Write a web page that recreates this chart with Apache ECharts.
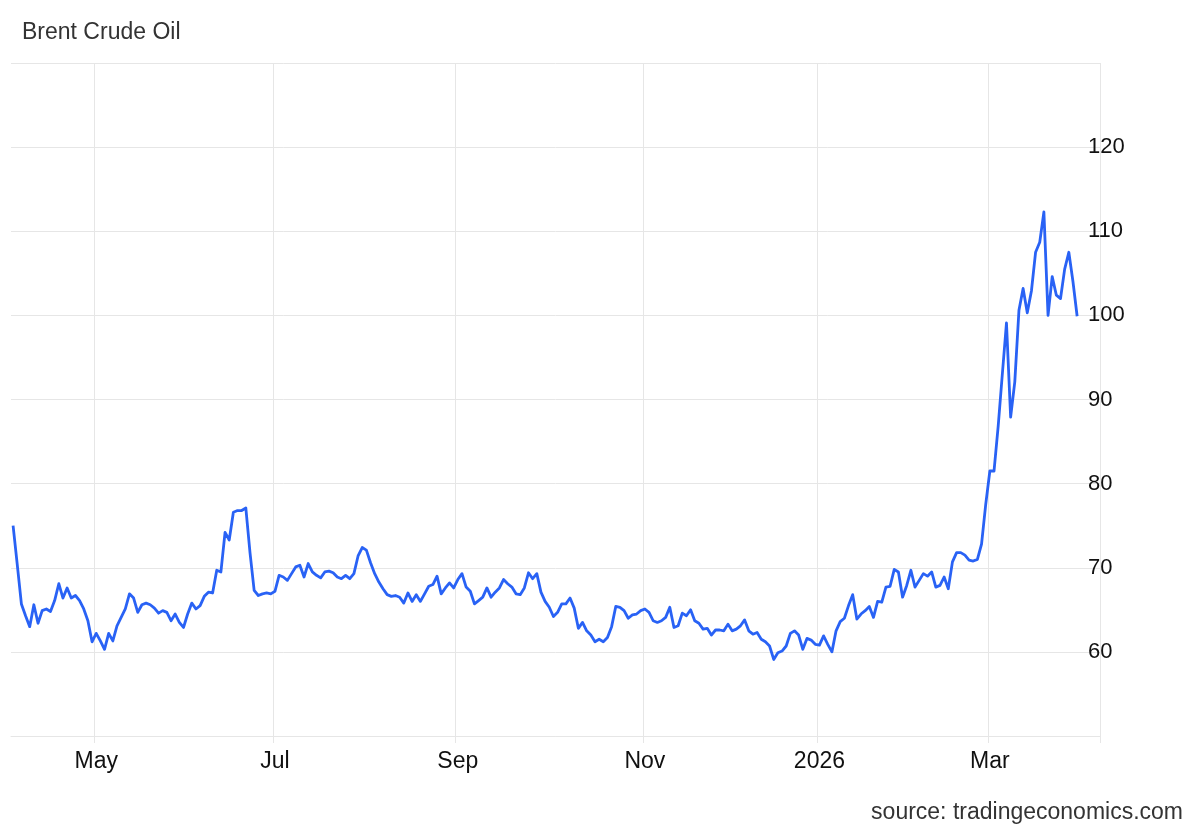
<!DOCTYPE html>
<html>
<head>
<meta charset="utf-8">
<script src="https://cdn.jsdelivr.net/npm/echarts@6/dist/echarts.min.js"></script>
<style>
html,body{margin:0;padding:0;background:#ffffff;}
#chart{width:1200px;height:832px;}
</style>
</head>
<body>
<div id="chart"></div>
<script>
// ---- data ----
const titleText = 'Brent Crude Oil';
const sourceText = 'source: tradingeconomics.com';
const firstDay = '2025-04-02';
const lastDay = '2026-03-31';
const holidays = ['2025-04-18', '2025-12-25', '2026-01-01'];
const monthLabels = {'2025-05': 'May', '2025-07': 'Jul', '2025-09': 'Sep', '2025-11': 'Nov', '2026-01': '2026', '2026-03': 'Mar'};
const yTickLabels = [60, 70, 80, 90, 100, 110, 120];
const prices = [
  75.0, 70.4, 65.7, 64.3, 63.0, 65.6, 63.4, 64.9, 65.1, 64.8,
  66.1, 68.1, 66.4, 67.6, 66.4, 66.7, 66.1, 65.1, 63.7, 61.2,
  62.2, 61.3, 60.3, 62.2, 61.3, 63.1, 64.1, 65.1, 66.9, 66.4,
  64.7, 65.6, 65.8, 65.6, 65.2, 64.6, 64.9, 64.7, 63.7, 64.5,
  63.5, 62.9, 64.5, 65.8, 65.1, 65.5, 66.6, 67.1, 67.0, 69.7,
  69.5, 74.2, 73.3, 76.6, 76.8, 76.8, 77.1, 71.8, 67.3, 66.7,
  66.9, 67.0, 66.9, 67.2, 69.1, 68.9, 68.5, 69.3, 70.1, 70.3,
  68.9, 70.5, 69.5, 69.1, 68.8, 69.5, 69.6, 69.4, 68.9, 68.7,
  69.1, 68.7, 69.3, 71.4, 72.4, 72.1, 70.6, 69.3, 68.3, 67.5,
  66.8, 66.6, 66.7, 66.5, 65.8, 67.0, 66.0, 66.8, 66.0, 66.9,
  67.8, 68.0, 69.0, 66.9, 67.6, 68.2, 67.6, 68.6, 69.3, 67.7,
  67.2, 65.7, 66.1, 66.5, 67.6, 66.5, 67.1, 67.6, 68.6, 68.1,
  67.7, 66.9, 66.8, 67.6, 69.4, 68.7, 69.3, 67.1, 66.0, 65.3,
  64.2, 64.7, 65.7, 65.7, 66.4, 65.2, 62.8, 63.5, 62.5, 62.0,
  61.2, 61.5, 61.2, 61.7, 63.0, 65.4, 65.3, 64.9, 64.0, 64.4,
  64.5, 64.9, 65.1, 64.7, 63.7, 63.5, 63.7, 64.1, 65.3, 62.9,
  63.1, 64.6, 64.3, 65.0, 63.7, 63.4, 62.7, 62.8, 62.0, 62.6,
  62.6, 62.5, 63.3, 62.5, 62.7, 63.1, 63.8, 62.5, 62.1, 62.3,
  61.5, 61.2, 60.7, 59.1, 59.9, 60.1, 60.7, 62.2, 62.5, 62.0,
  60.3, 61.6, 61.4, 60.9, 60.8, 61.9, 60.9, 60.0, 62.5, 63.6,
  64.0, 65.5, 66.8, 63.9, 64.5, 64.9, 65.4, 64.1, 66.0, 65.9,
  67.7, 67.8, 69.8, 69.5, 66.5, 67.9, 69.7, 67.7, 68.5, 69.3,
  69.0, 69.5, 67.7, 67.9, 68.9, 67.5, 70.7, 71.8, 71.8, 71.5,
  70.9, 70.8, 71.0, 72.8, 77.5, 81.5, 81.5, 86.8, 93.0, 99.1,
  87.9, 92.1, 100.6, 103.2, 100.3, 102.9, 107.5, 108.7, 112.3, 100.0,
  104.6, 102.4, 102.0, 105.5, 107.5, 104.0, 99.9
];

// ---- trading-day categories (weekdays minus market holidays) ----
const dates = [];
(function () {
  const d = new Date(firstDay + 'T00:00:00Z');
  const end = new Date(lastDay + 'T00:00:00Z');
  while (d <= end) {
    const wd = d.getUTCDay();
    const s = d.toISOString().slice(0, 10);
    if (wd !== 0 && wd !== 6 && holidays.indexOf(s) < 0) dates.push(s);
    d.setUTCDate(d.getUTCDate() + 1);
  }
})();

// first trading day of each labelled month
const labelAt = {};
for (let i = 0; i < dates.length; i++) {
  const m = dates[i].slice(0, 7);
  const prevM = i > 0 ? dates[i - 1].slice(0, 7) : null;
  if (m !== prevM && monthLabels[m] && i > 0) labelAt[i] = monthLabels[m];
}
const isMonthStart = (idx) => labelAt[idx] !== undefined;

const gridColor = '#e6e6e6';
const fontFamily = '"Liberation Sans", Arial, Helvetica, sans-serif';

const chart = echarts.init(document.getElementById('chart'), null, {renderer: 'canvas'});
chart.setOption({
  animation: false,
  backgroundColor: '#ffffff',
  title: [
    {text: titleText, left: 17, top: 16,
     textStyle: {fontFamily, fontSize: 23, fontWeight: 'normal', color: '#333333'}},
    {text: sourceText, right: 12, top: 796,
     textStyle: {fontFamily, fontSize: 23, fontWeight: 'normal', color: '#333333'}}
  ],
  grid: {left: 11, right: 100, top: 63, bottom: 96, containLabel: false},
  xAxis: {
    type: 'category',
    data: dates,
    boundaryGap: true,
    max: 261,
    axisLine: {show: true, lineStyle: {color: gridColor, width: 1}},
    axisTick: {show: true, length: 7, interval: isMonthStart, lineStyle: {color: gridColor}},
    splitLine: {show: true, interval: isMonthStart, lineStyle: {color: gridColor, width: 1}},
    axisLabel: {
      interval: isMonthStart,
      formatter: (v, idx) => labelAt[idx] || '',
      margin: 14,
      fontFamily, fontSize: 23, color: '#111111'
    }
  },
  yAxis: {
    type: 'value',
    position: 'right',
    min: 50, max: 130, interval: 10,
    axisLine: {show: false},
    axisTick: {show: false},
    splitLine: {show: true, lineStyle: {color: gridColor, width: 1}},
    axisLabel: {
      margin: -12,
      align: 'left',
      verticalAlign: 'middle',
      padding: [7, 0, 0, 0],
      formatter: (v) => yTickLabels.indexOf(v) >= 0 ? String(v) : '',
      fontFamily, fontSize: 22, color: '#111111'
    }
  },
  series: [{
    type: 'line',
    data: prices,
    showSymbol: false,
    symbol: 'none',
    smooth: false,
    lineStyle: {color: '#2962f5', width: 2.8, join: 'round'},
    itemStyle: {color: '#2962f5'}
  }]
});
</script>
</body>
</html>
